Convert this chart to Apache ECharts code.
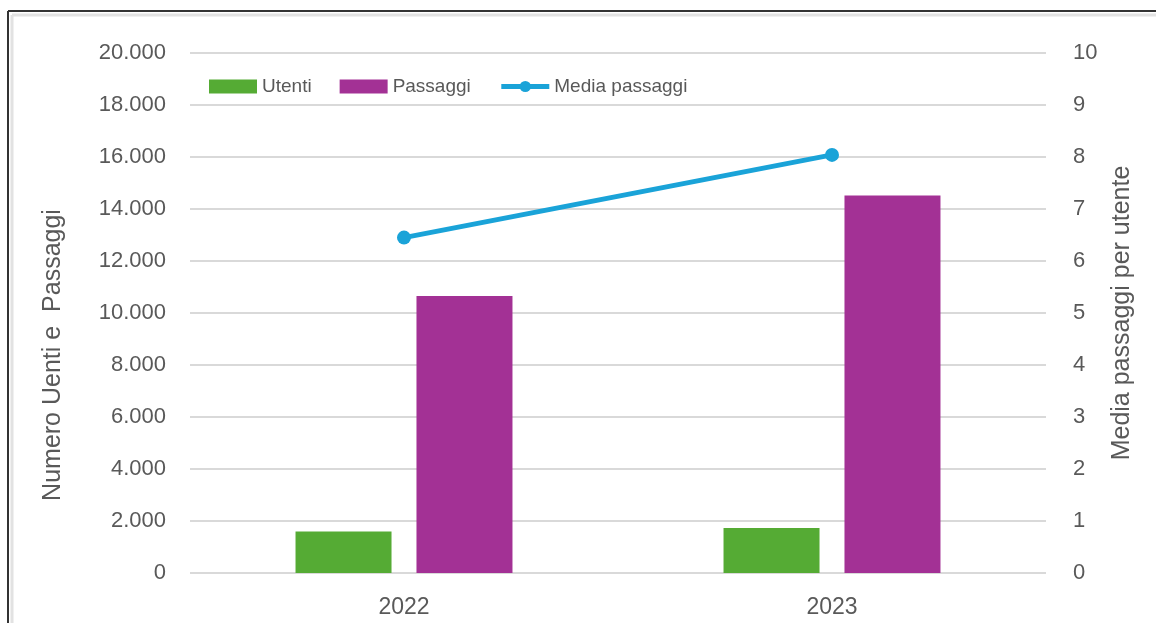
<!DOCTYPE html>
<html>
<head>
<meta charset="utf-8">
<script src="https://cdn.jsdelivr.net/npm/echarts@6/dist/echarts.min.js"></script>
<style>
  html, body { margin: 0; padding: 0; background: #fff; }
  #chart { width: 1156px; height: 623px; }
</style>
</head>
<body>
<div id="chart"></div>
<script>
// dati
var anni = ['2022', '2023']
var utenti = [1600, 1730]
var passaggi = [10650, 14520]
var mediaPassaggi = [6.45, 8.04]

var chart = echarts.init(document.getElementById('chart'))
var txt = '#595959'
var font = 'Liberation Sans, Arial, sans-serif'

chart.setOption({
  animation: false,
  color: ['#55AB34', '#A33195', '#1AA3D8'],
  grid: { left: 190, right: 110, top: 53, bottom: 50 },
  legend: {
    top: 72,
    left: 204,
    itemWidth: 48,
    itemHeight: 14,
    itemGap: 28,
    textStyle: { color: txt, fontSize: 19, fontFamily: font },
    data: [
      { name: 'Utenti', icon: 'rect' },
      { name: 'Passaggi', icon: 'rect' },
      { name: 'Media passaggi', lineStyle: { width: 5 } }
    ]
  },
  graphic: [
    { type: 'line', shape: { x1: 8, y1: 11, x2: 8, y2: 623 }, style: { stroke: '#333', lineWidth: 2 } },
    { type: 'line', shape: { x1: 8, y1: 11, x2: 1156, y2: 11 }, style: { stroke: '#333', lineWidth: 2 } },
    { type: 'line', shape: { x1: 12, y1: 15, x2: 12, y2: 623 }, style: { stroke: '#e2e2e2', lineWidth: 3 } },
    { type: 'line', shape: { x1: 12, y1: 15, x2: 1156, y2: 15 }, style: { stroke: '#e2e2e2', lineWidth: 3 } }
  ],
  xAxis: {
    type: 'category',
    data: anni,
    axisLine: { show: false },
    axisTick: { show: false },
    axisLabel: { color: txt, fontSize: 23, fontFamily: font, margin: 23 }
  },
  yAxis: [
    {
      type: 'value',
      min: 0,
      max: 20000,
      interval: 2000,
      name: 'Numero Uenti e  Passaggi',
      nameLocation: 'middle',
      nameGap: 124,
      nameTextStyle: { color: txt, fontSize: 25, fontFamily: font, padding: [0, 84, 0, 0] },
      axisLine: { show: false },
      axisTick: { show: false },
      axisLabel: {
        color: txt, fontSize: 22, fontFamily: font, margin: 24,
        formatter: function (v) { return String(v).replace(/\B(?=(\d{3})+(?!\d))/g, '.') }
      },
      splitLine: { lineStyle: { color: '#d9d9d9', width: 2 } }
    },
    {
      type: 'value',
      min: 0,
      max: 10,
      interval: 1,
      name: 'Media passaggi per utente',
      nameLocation: 'middle',
      nameGap: 64,
      nameRotate: 90,
      nameTextStyle: { color: txt, fontSize: 25, fontFamily: font },
      axisLine: { show: false },
      axisTick: { show: false },
      axisLabel: { color: txt, fontSize: 22, fontFamily: font, margin: 27 },
      splitLine: { show: false }
    }
  ],
  series: [
    {
      name: 'Utenti',
      type: 'bar',
      barWidth: 96,
      barGap: '26%',
      data: utenti
    },
    {
      name: 'Passaggi',
      type: 'bar',
      barWidth: 96,
      data: passaggi
    },
    {
      name: 'Media passaggi',
      type: 'line',
      yAxisIndex: 1,
      symbol: 'circle',
      symbolSize: 14,
      lineStyle: { width: 5 },
      data: mediaPassaggi
    }
  ]
})
</script>
</body>
</html>
